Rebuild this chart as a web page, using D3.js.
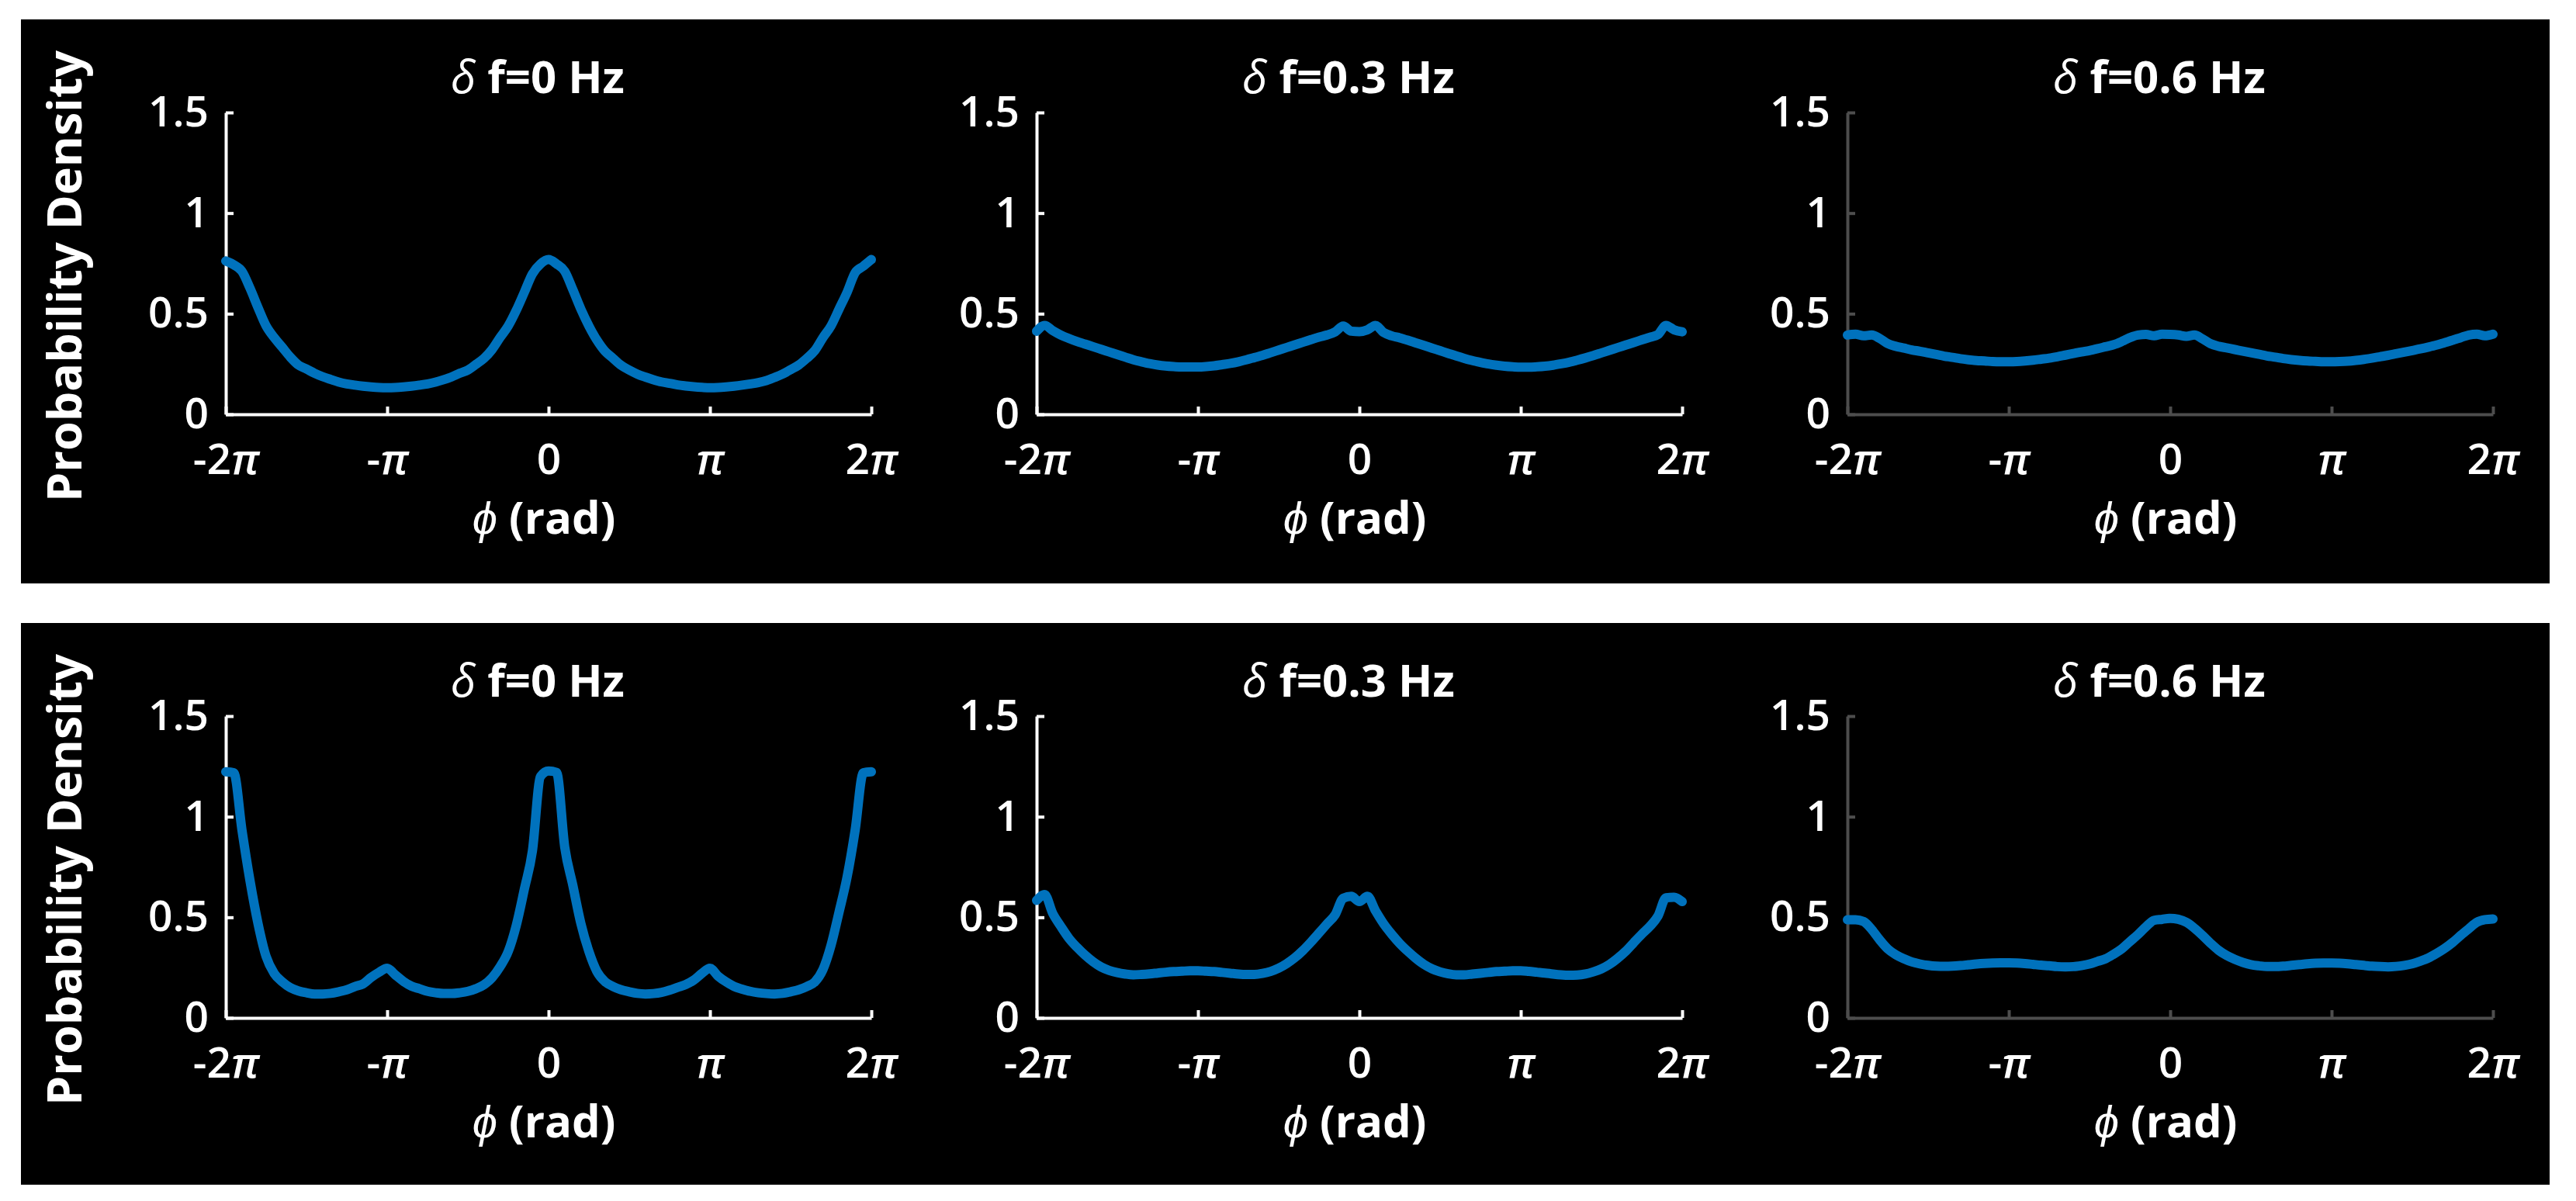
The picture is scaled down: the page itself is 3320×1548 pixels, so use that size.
<!DOCTYPE html>
<html>
<head>
<meta charset="utf-8">
<script src="https://cdnjs.cloudflare.com/ajax/libs/d3/7.8.5/d3.min.js"></script>
<style>
  body { margin: 0; background: #fff; }
  text { font-family: "Open Sans", sans-serif; fill: #fff; }
</style>
</head>
<body>
<div class="chart"></div>
<script>
// phase in units of pi
const phase = [
  -2, -1.95, -1.9, -1.85, -1.8, -1.75, -1.7, -1.65, -1.6, -1.55,
  -1.5, -1.45, -1.4, -1.35, -1.3, -1.25, -1.2, -1.15, -1.1, -1.05,
  -1, -0.95, -0.9, -0.85, -0.8, -0.75, -0.7, -0.65, -0.6, -0.55,
  -0.5, -0.45, -0.4, -0.35, -0.3, -0.25, -0.2, -0.15, -0.1, -0.05,
  0, 0.05, 0.1, 0.15, 0.2, 0.25, 0.3, 0.35, 0.4, 0.45,
  0.5, 0.55, 0.6, 0.65, 0.7, 0.75, 0.8, 0.85, 0.9, 0.95,
  1, 1.05, 1.1, 1.15, 1.2, 1.25, 1.3, 1.35, 1.4, 1.45,
  1.5, 1.55, 1.6, 1.65, 1.7, 1.75, 1.8, 1.85, 1.9, 1.95,
  2
];

const offsets = ["0", "0.3", "0.6"];

const topRow0Hz = [
  0.762, 0.743, 0.711, 0.627, 0.530, 0.439, 0.381, 0.333, 0.284, 0.245,
  0.225, 0.204, 0.187, 0.173, 0.160, 0.151, 0.145, 0.140, 0.136, 0.133,
  0.132, 0.133, 0.136, 0.140, 0.145, 0.151, 0.160, 0.172, 0.186, 0.204,
  0.220, 0.248, 0.278, 0.322, 0.382, 0.439, 0.517, 0.607, 0.698, 0.747,
  0.769, 0.747, 0.711, 0.620, 0.523, 0.439, 0.368, 0.313, 0.278, 0.243,
  0.220, 0.200, 0.185, 0.172, 0.161, 0.154, 0.146, 0.141, 0.137, 0.134,
  0.132, 0.133, 0.136, 0.140, 0.145, 0.151, 0.158, 0.168, 0.183, 0.200,
  0.222, 0.245, 0.278, 0.317, 0.381, 0.439, 0.523, 0.607, 0.704, 0.736,
  0.769
];

const topRow03Hz = [
  0.413, 0.442, 0.416, 0.394, 0.377, 0.362, 0.349, 0.336, 0.323, 0.310,
  0.297, 0.284, 0.271, 0.261, 0.252, 0.245, 0.240, 0.237, 0.235, 0.235,
  0.235, 0.237, 0.241, 0.247, 0.253, 0.261, 0.271, 0.282, 0.293, 0.306,
  0.319, 0.332, 0.345, 0.358, 0.371, 0.384, 0.394, 0.410, 0.439, 0.413,
  0.411, 0.420, 0.442, 0.407, 0.390, 0.380, 0.368, 0.355, 0.342, 0.329,
  0.316, 0.303, 0.290, 0.278, 0.267, 0.258, 0.250, 0.244, 0.239, 0.236,
  0.234, 0.234, 0.236, 0.239, 0.244, 0.251, 0.259, 0.269, 0.280, 0.292,
  0.305, 0.318, 0.331, 0.344, 0.357, 0.370, 0.383, 0.396, 0.442, 0.420,
  0.410
];

const topRow06Hz = [
  0.394, 0.398, 0.390, 0.394, 0.377, 0.351, 0.338, 0.329, 0.320, 0.313,
  0.305, 0.297, 0.289, 0.283, 0.276, 0.271, 0.267, 0.265, 0.262, 0.261,
  0.261, 0.262, 0.265, 0.269, 0.274, 0.279, 0.286, 0.294, 0.302, 0.310,
  0.317, 0.326, 0.336, 0.346, 0.362, 0.381, 0.394, 0.397, 0.390, 0.398,
  0.397, 0.394, 0.388, 0.394, 0.375, 0.351, 0.338, 0.330, 0.322, 0.314,
  0.306, 0.298, 0.290, 0.284, 0.277, 0.272, 0.268, 0.265, 0.263, 0.261,
  0.261, 0.262, 0.264, 0.268, 0.273, 0.279, 0.286, 0.293, 0.301, 0.309,
  0.317, 0.325, 0.334, 0.344, 0.356, 0.368, 0.381, 0.394, 0.398, 0.390,
  0.398
];

const bottomRow0Hz = [
  1.223, 1.218, 0.935, 0.682, 0.468, 0.305, 0.221, 0.179, 0.150, 0.134,
  0.125, 0.119, 0.119, 0.122, 0.130, 0.140, 0.156, 0.169, 0.201, 0.227,
  0.247, 0.214, 0.182, 0.158, 0.145, 0.132, 0.125, 0.121, 0.121, 0.125,
  0.132, 0.145, 0.165, 0.200, 0.255, 0.330, 0.460, 0.640, 0.830, 1.200,
  1.227, 1.220, 0.850, 0.660, 0.470, 0.330, 0.230, 0.180, 0.156, 0.140,
  0.130, 0.122, 0.119, 0.121, 0.127, 0.138, 0.152, 0.166, 0.188, 0.221,
  0.247, 0.208, 0.179, 0.156, 0.143, 0.132, 0.125, 0.121, 0.119, 0.122,
  0.130, 0.140, 0.156, 0.179, 0.240, 0.360, 0.526, 0.701, 0.935, 1.218,
  1.223
];

const bottomRow03Hz = [
  0.584, 0.613, 0.519, 0.455, 0.396, 0.351, 0.312, 0.279, 0.253, 0.236,
  0.225, 0.218, 0.214, 0.216, 0.219, 0.223, 0.227, 0.230, 0.232, 0.234,
  0.234, 0.232, 0.230, 0.226, 0.222, 0.218, 0.216, 0.216, 0.221, 0.231,
  0.247, 0.270, 0.299, 0.335, 0.377, 0.422, 0.468, 0.513, 0.595, 0.604,
  0.578, 0.604, 0.532, 0.468, 0.416, 0.370, 0.331, 0.296, 0.266, 0.244,
  0.229, 0.219, 0.214, 0.214, 0.218, 0.222, 0.226, 0.230, 0.232, 0.234,
  0.234, 0.231, 0.227, 0.223, 0.218, 0.214, 0.212, 0.213, 0.218, 0.229,
  0.244, 0.266, 0.296, 0.331, 0.374, 0.416, 0.455, 0.506, 0.597, 0.600,
  0.578
];

const bottomRow06Hz = [
  0.488, 0.488, 0.479, 0.440, 0.388, 0.343, 0.314, 0.294, 0.278, 0.268,
  0.261, 0.257, 0.256, 0.257, 0.260, 0.264, 0.268, 0.271, 0.273, 0.274,
  0.274, 0.273, 0.270, 0.266, 0.262, 0.259, 0.255, 0.254, 0.255, 0.260,
  0.268, 0.281, 0.294, 0.317, 0.343, 0.379, 0.414, 0.453, 0.485, 0.490,
  0.495, 0.490, 0.475, 0.446, 0.410, 0.371, 0.336, 0.310, 0.291, 0.276,
  0.265, 0.259, 0.255, 0.255, 0.257, 0.261, 0.265, 0.269, 0.272, 0.273,
  0.273, 0.272, 0.269, 0.265, 0.261, 0.257, 0.255, 0.254, 0.256, 0.261,
  0.269, 0.282, 0.298, 0.320, 0.345, 0.375, 0.410, 0.443, 0.475, 0.488,
  0.492
];

const yTicks = [0, 0.5, 1, 1.5];
const xTicks = [-2, -1, 0, 1, 2];
const xTickLabels = ["-2π", "-π", "0", "π", "2π"];

const rows = [
  [topRow0Hz, topRow03Hz, topRow06Hz],
  [bottomRow0Hz, bottomRow03Hz, bottomRow06Hz]
];

const totalW = 3320, totalH = 1548;
const panelW = 832, panelH = 389;
const colX = [291, 1336, 2381];
const rowY = [145, 923];
const boxes = [{ y: 25, h: 727 }, { y: 803, h: 724 }];
const axisColor = ["#ffffff", "#ffffff", "#4d4d4d"];

const svg = d3.select(".chart").append("svg")
    .attr("width", totalW)
    .attr("height", totalH);

svg.selectAll("rect.box")
    .data(boxes)
    .enter()
    .append("rect")
    .attr("class", "box")
    .attr("x", 27)
    .attr("y", d => d.y)
    .attr("width", 3259)
    .attr("height", d => d.h)
    .attr("fill", "#000");

const xScale = d3.scaleLinear().domain([-2, 2]).range([0, panelW]);
const yScale = d3.scaleLinear().domain([0, 1.5]).range([panelH, 0]);

const line = d3.line()
    .x((d, i) => xScale(phase[i]))
    .y(d => yScale(d))
    .curve(d3.curveMonotoneX);

function piLabel(text) {
    text.each(function (d) {
        const t = d3.select(this);
        const s = xTickLabels[xTicks.indexOf(d)];
        t.text(null);
        s.split(/(π)/).filter(p => p.length).forEach(p => {
            t.append("tspan")
                .attr("font-style", p === "π" ? "italic" : null)
                .text(p);
        });
    });
}

rows.forEach((series, r) => {
    series.forEach((values, c) => {
        const g = svg.append("g")
            .attr("transform", `translate(${colX[c]},${rowY[r]})`);

        const yAxis = d3.axisLeft(yScale)
            .tickValues(yTicks)
            .tickSize(-10)
            .tickSizeOuter(0)
            .tickPadding(22)
            .tickFormat(d3.format("~g"));

        const xAxis = d3.axisBottom(xScale)
            .tickValues(xTicks)
            .tickSize(-10)
            .tickSizeOuter(0)
            .tickPadding(38);

        g.append("g")
            .attr("class", "axis x-axis")
            .attr("transform", `translate(0,${panelH})`)
            .call(xAxis)
            .call(a => a.selectAll("path, line")
                .attr("stroke", axisColor[c])
                .attr("stroke-width", 4))
            .selectAll("text")
            .attr("font-size", 55)
            .attr("font-weight", 600)
            .attr("fill", "#fff")
            .call(piLabel);

        g.append("g")
            .attr("class", "axis y-axis")
            .call(yAxis)
            .call(a => a.selectAll("path, line")
                .attr("stroke", axisColor[c])
                .attr("stroke-width", 4))
            .selectAll("text")
            .attr("font-size", 55)
            .attr("font-weight", 600)
            .attr("fill", "#fff");

        g.append("path")
            .datum(values)
            .attr("fill", "none")
            .attr("stroke", "#0072bd")
            .attr("stroke-width", 12)
            .attr("stroke-linejoin", "round")
            .attr("stroke-linecap", "round")
            .attr("d", line);

        const title = g.append("text")
            .attr("x", panelW / 2 - 14)
            .attr("y", -25)
            .attr("text-anchor", "middle")
            .attr("font-size", 58)
            .attr("font-weight", 700);
        title.append("tspan").attr("font-style", "italic").attr("font-weight", 400).text("δ");
        title.append("tspan").text(` f=${offsets[c]} Hz`);

        const xl = g.append("text")
            .attr("x", panelW / 2 - 6)
            .attr("y", panelH + 154)
            .attr("text-anchor", "middle")
            .attr("font-size", 58)
            .attr("font-weight", 700);
        xl.append("tspan").attr("font-style", "italic").attr("font-weight", 400).text("ϕ");
        xl.append("tspan").text(" (rad)");

        if (c === 0) {
            svg.append("text")
                .attr("transform", `translate(84,${rowY[r] + 211}) rotate(-90)`)
                .attr("text-anchor", "middle")
                .attr("dy", "0.35em")
                .attr("font-size", 61)
                .attr("font-weight", 700)
                .text("Probability Density");
        }
    });
});
</script>
</body>
</html>
